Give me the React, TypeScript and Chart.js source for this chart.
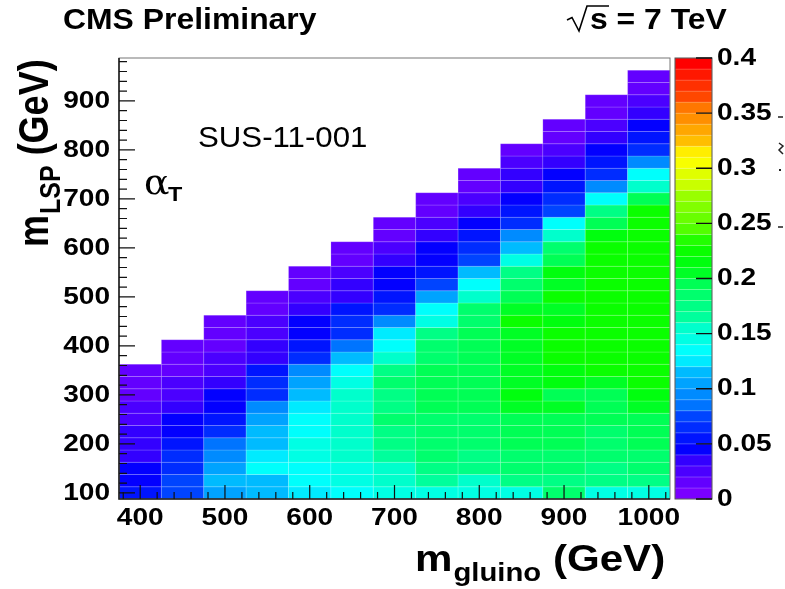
import React, { useEffect, useRef } from "react";
import { Chart, registerables } from "chart.js";

Chart.register(...registerables);

// ---- data ----
const gluinoMasses = [400, 450, 500, 550, 600, 650, 700, 750, 800, 850, 900, 950, 1000];
const lspFirst = 100;
const lspStep = 25;
const gluinoStep = 50;

// efficiency per LSP row (100, 125, 150, ...) for each gluino mass
const eff400 = [0.055, 0.045, 0.045, 0.035, 0.035, 0.035, 0.025, 0.025, 0.015, 0.015, 0.015];
const eff450 = [0.075, 0.075, 0.065, 0.065, 0.055, 0.045, 0.045, 0.035, 0.025, 0.025, 0.015, 0.015, 0.015];
const eff500 = [0.105, 0.115, 0.105, 0.095, 0.085, 0.065, 0.055, 0.045, 0.045, 0.035, 0.025, 0.025, 0.015, 0.015, 0.015];
const eff550 = [0.115, 0.115, 0.135, 0.125, 0.115, 0.115, 0.105, 0.095, 0.065, 0.065, 0.055, 0.035, 0.035, 0.025, 0.025, 0.015, 0.015];
const eff600 = [0.125, 0.135, 0.135, 0.145, 0.145, 0.135, 0.135, 0.125, 0.115, 0.105, 0.095, 0.065, 0.055, 0.045, 0.045, 0.035, 0.025, 0.015, 0.015];
const eff650 = [0.135, 0.145, 0.145, 0.155, 0.155, 0.155, 0.155, 0.155, 0.155, 0.145, 0.135, 0.115, 0.085, 0.065, 0.065, 0.055, 0.035, 0.035, 0.025, 0.015, 0.015];
const eff700 = [0.145, 0.155, 0.155, 0.165, 0.175, 0.175, 0.185, 0.175, 0.175, 0.185, 0.175, 0.155, 0.135, 0.125, 0.095, 0.065, 0.055, 0.045, 0.045, 0.035, 0.025, 0.015, 0.015];
const eff750 = [0.145, 0.165, 0.175, 0.185, 0.185, 0.185, 0.185, 0.195, 0.195, 0.195, 0.195, 0.185, 0.185, 0.175, 0.145, 0.135, 0.105, 0.075, 0.055, 0.045, 0.045, 0.035, 0.025, 0.015, 0.015];
const eff800 = [0.145, 0.155, 0.175, 0.175, 0.185, 0.185, 0.185, 0.195, 0.195, 0.195, 0.195, 0.195, 0.195, 0.195, 0.185, 0.185, 0.155, 0.135, 0.115, 0.075, 0.065, 0.055, 0.045, 0.035, 0.025, 0.015, 0.015];
const eff850 = [0.145, 0.175, 0.185, 0.185, 0.195, 0.195, 0.195, 0.205, 0.215, 0.205, 0.205, 0.205, 0.205, 0.205, 0.225, 0.205, 0.195, 0.185, 0.175, 0.145, 0.115, 0.095, 0.065, 0.055, 0.045, 0.035, 0.035, 0.025, 0.015];
const eff900 = [0.185, 0.175, 0.185, 0.185, 0.195, 0.195, 0.195, 0.205, 0.195, 0.215, 0.215, 0.225, 0.225, 0.225, 0.215, 0.205, 0.225, 0.205, 0.215, 0.195, 0.185, 0.155, 0.135, 0.075, 0.065, 0.055, 0.045, 0.035, 0.025, 0.015, 0.015];
const eff950 = [0.145, 0.175, 0.175, 0.185, 0.185, 0.185, 0.195, 0.195, 0.195, 0.205, 0.225, 0.225, 0.225, 0.225, 0.225, 0.225, 0.225, 0.225, 0.225, 0.225, 0.225, 0.215, 0.195, 0.175, 0.135, 0.095, 0.065, 0.055, 0.045, 0.035, 0.025, 0.015, 0.015];
const eff1000 = [0.145, 0.175, 0.185, 0.185, 0.195, 0.195, 0.195, 0.205, 0.215, 0.225, 0.225, 0.225, 0.225, 0.225, 0.225, 0.225, 0.225, 0.225, 0.225, 0.225, 0.225, 0.225, 0.225, 0.225, 0.195, 0.155, 0.135, 0.095, 0.065, 0.055, 0.045, 0.035, 0.025, 0.015, 0.015];

const effColumns = [eff400, eff450, eff500, eff550, eff600, eff650, eff700, eff750, eff800, eff850, eff900, eff950, eff1000];

const xTickLabels = [400, 500, 600, 700, 800, 900, 1000];
const yTickLabels = [100, 200, 300, 400, 500, 600, 700, 800, 900];
const zTickLabels = ["0", "0.05", "0.1", "0.15", "0.2", "0.25", "0.3", "0.35", "0.4"];

const zMin = 0;
const zMax = 0.4;
const nContours = 40;
const nPalette = 50;

// ---- helpers ----
const SANS = '"Liberation Sans", Arial, Helvetica, sans-serif';
const SX = 1.17;

function hueToRgb(h: number): string {
  const hh = ((h % 360) + 360) % 360;
  const f = (n: number) => {
    const k = (n + hh / 30) % 12;
    const v = 0.5 - 0.5 * Math.max(-1, Math.min(k - 3, 9 - k, 1));
    return Math.round(v * 255);
  };
  return `rgb(${f(0)},${f(8)},${f(4)})`;
}

function levelColor(level: number): string {
  const c = Math.floor(((level + 0.99) * nPalette) / nContours);
  const hue = c >= nPalette - 1 ? 0 : 280 - (c + 1) * (280 / nPalette);
  return hueToRgb(hue);
}

function valueColor(v: number): string {
  let k = Math.floor(((v - zMin) / (zMax - zMin)) * nContours + 1e-6);
  k = Math.max(0, Math.min(nContours - 1, k));
  return levelColor(k);
}

function sText(
  ctx: CanvasRenderingContext2D,
  text: string,
  x: number,
  y: number,
  font: string,
  align: CanvasTextAlign = "left",
  baseline: CanvasTextBaseline = "alphabetic",
  rot = 0,
  sx = SX
) {
  ctx.save();
  ctx.translate(x, y);
  ctx.scale(sx, 1);
  if (rot) ctx.rotate(rot);
  ctx.font = font;
  ctx.textAlign = align;
  ctx.textBaseline = baseline;
  ctx.fillStyle = "#000";
  ctx.fillText(text, 0, 0);
  ctx.restore();
}

function textW(ctx: CanvasRenderingContext2D, text: string, font: string) {
  ctx.save();
  ctx.font = font;
  const w = ctx.measureText(text).width;
  ctx.restore();
  return w;
}

const heatPlugin = {
  id: "heat",
  beforeDatasetsDraw(chart: any) {
    const { ctx } = chart;
    const xs = chart.scales.x;
    const ys = chart.scales.y;
    const zs = chart.scales.z;
    const pts = chart.data.datasets[0].data as any[];
    ctx.save();
    for (const p of pts) {
      const x0 = xs.getPixelForValue(p.x - gluinoStep / 2);
      const x1 = xs.getPixelForValue(p.x + gluinoStep / 2);
      const y0 = ys.getPixelForValue(p.y + lspStep / 2);
      const y1 = ys.getPixelForValue(p.y - lspStep / 2);
      ctx.fillStyle = valueColor(p.v);
      ctx.fillRect(x0, y0, x1 - x0, y1 - y0);
      ctx.strokeStyle = "rgba(255,255,255,0.16)";
      ctx.lineWidth = 1;
      ctx.strokeRect(x0, y0, x1 - x0, y1 - y0);
    }
    // colour bar
    const cbL = 675;
    const cbR = 712;
    for (let k = 0; k < nContours; k++) {
      const v0 = zMin + (k * (zMax - zMin)) / nContours;
      const v1 = zMin + ((k + 1) * (zMax - zMin)) / nContours;
      const ya = zs.getPixelForValue(v1);
      const yb = zs.getPixelForValue(v0);
      ctx.fillStyle = levelColor(k);
      ctx.fillRect(cbL, ya, cbR - cbL, yb - ya);
      ctx.strokeStyle = "rgba(255,255,255,0.14)";
      ctx.strokeRect(cbL, ya, cbR - cbL, yb - ya);
    }
    ctx.strokeStyle = "#555";
    ctx.lineWidth = 1;
    ctx.strokeRect(cbL, zs.getPixelForValue(zMax), cbR - cbL, zs.getPixelForValue(zMin) - zs.getPixelForValue(zMax));
    ctx.restore();
  },
  afterDraw(chart: any) {
    const { ctx, chartArea: a } = chart;
    const xs = chart.scales.x;
    const ys = chart.scales.y;
    const zs = chart.scales.z;
    ctx.save();
    // frame
    ctx.strokeStyle = "#777";
    ctx.lineWidth = 1;
    ctx.strokeRect(a.left, a.top, a.right - a.left, a.bottom - a.top);
    ctx.strokeStyle = "#222";
    ctx.lineWidth = 1.6;
    ctx.beginPath();
    ctx.moveTo(a.left, a.top);
    ctx.lineTo(a.left, a.bottom);
    ctx.lineTo(a.right, a.bottom);
    ctx.stroke();

    // ticks
    ctx.strokeStyle = "#111";
    ctx.lineWidth = 1.2;
    ctx.beginPath();
    for (let v = 100; v <= 980; v += 20) {
      const py = ys.getPixelForValue(v);
      const len = v % 100 === 0 ? 16 : 8;
      ctx.moveTo(a.left, py);
      ctx.lineTo(a.left + len, py);
    }
    for (let v = 380; v <= 1020; v += 20) {
      const px = xs.getPixelForValue(v);
      const len = v % 100 === 0 ? 14 : 7;
      ctx.moveTo(px, a.bottom);
      ctx.lineTo(px, a.bottom - len);
    }
    ctx.stroke();
    ctx.beginPath();
    ctx.lineWidth = 1.4;
    zTickLabels.forEach((t) => {
      const py = zs.getPixelForValue(parseFloat(t));
      ctx.moveTo(712, py);
      ctx.lineTo(696, py);
    });
    ctx.stroke();

    // tick labels
    const tickFont = `bold 24px ${SANS}`;
    xTickLabels.forEach((t) => sText(ctx, String(t), xs.getPixelForValue(t), 525, tickFont, "center"));
    yTickLabels.forEach((t) => sText(ctx, String(t), 110, ys.getPixelForValue(t), tickFont, "right", "middle"));
    zTickLabels.forEach((t) => sText(ctx, t, 717, zs.getPixelForValue(parseFloat(t)), tickFont, "left", "middle"));

    // clipped remnants of the z-axis title at the right edge
    ctx.strokeStyle = "#222";
    ctx.lineWidth = 1.5;
    ctx.beginPath();
    ctx.moveTo(778, 117);
    ctx.lineTo(783, 117);
    ctx.moveTo(778, 227);
    ctx.lineTo(783, 227);
    ctx.moveTo(779, 143);
    ctx.lineTo(783, 146);
    ctx.lineTo(779, 150);
    ctx.lineTo(783, 154);
    ctx.stroke();
    ctx.fillStyle = "#222";
    ctx.fillRect(779, 169, 2, 2);

    // titles
    sText(ctx, "CMS Preliminary", 63, 29, `bold 29px ${SANS}`, "left", "alphabetic", 0, 1.1);
    // sqrt(s) = 7 TeV
    ctx.strokeStyle = "#000";
    ctx.lineWidth = 1.6;
    ctx.beginPath();
    ctx.moveTo(567, 20);
    ctx.lineTo(572, 17.5);
    ctx.lineTo(579, 31);
    ctx.lineTo(587, 6);
    ctx.lineTo(609, 6);
    ctx.stroke();
    sText(ctx, "s = 7 TeV", 590, 29, `bold 29px ${SANS}`, "left", "alphabetic", 0, 1.1);

    // annotation
    sText(ctx, "SUS-11-001", 198, 147, `30px ${SANS}`, "left", "alphabetic", 0, 1.04);
    sText(ctx, "\u03B1", 144, 194, `36px "DejaVu Serif", "Liberation Serif", serif`, "left", "alphabetic", 0, 1.05);
    sText(ctx, "T", 168, 201, `bold 20px ${SANS}`, "left");

    // x title
    const tF = `bold 36px ${SANS}`;
    const sF = `bold 25px ${SANS}`;
    let cx = 415;
    sText(ctx, "m", cx, 571, tF);
    cx += textW(ctx, "m", tF) * SX + 1;
    sText(ctx, "gluino", cx, 581, sF);
    cx += textW(ctx, "gluino", sF) * SX + textW(ctx, " ", tF) * SX;
    sText(ctx, "(GeV)", cx, 571, tF);

    // y title (rotated)
    let cy = 247;
    const bx = 48;
    const rot = -Math.PI / 2;
    sText(ctx, "m", bx, cy, tF, "left", "alphabetic", rot);
    cy -= textW(ctx, "m", tF) + 1;
    sText(ctx, "LSP", bx + 10 * SX, cy, sF, "left", "alphabetic", rot);
    cy -= textW(ctx, "LSP", sF) + textW(ctx, " ", tF);
    sText(ctx, "(GeV)", bx, cy, tF, "left", "alphabetic", rot);

    ctx.restore();
  },
};

export default function App() {
  const ref = useRef<HTMLCanvasElement | null>(null);
  useEffect(() => {
    if (!ref.current) return;
    const points: { x: number; y: number; v: number }[] = [];
    gluinoMasses.forEach((g, i) => {
      effColumns[i].forEach((v, j) => {
        points.push({ x: g, y: lspFirst + j * lspStep, v });
      });
    });
    const chart = new Chart(ref.current, {
      type: "scatter",
      data: {
        datasets: [{ data: points as any, pointRadius: 0, pointHoverRadius: 0 }],
      },
      options: {
        animation: false,
        responsive: false,
        events: [],
        layout: { padding: { left: 119, right: 115, top: 58, bottom: 90 } },
        plugins: { legend: { display: false }, tooltip: { enabled: false } },
        scales: {
          x: { type: "linear", display: false, min: 375, max: 1025 },
          y: { type: "linear", display: false, min: 87.5, max: 987.5 },
          z: { type: "linear", axis: "y", position: "right", display: false, min: zMin, max: zMax } as any,
        },
      },
      plugins: [heatPlugin],
    });
    return () => chart.destroy();
  }, []);
  return (
    <div style={{ position: "absolute", left: 0, top: 0, width: 785, height: 589, background: "#fff" }}>
      <canvas ref={ref} width={785} height={589} style={{ display: "block" }} />
    </div>
  );
}
